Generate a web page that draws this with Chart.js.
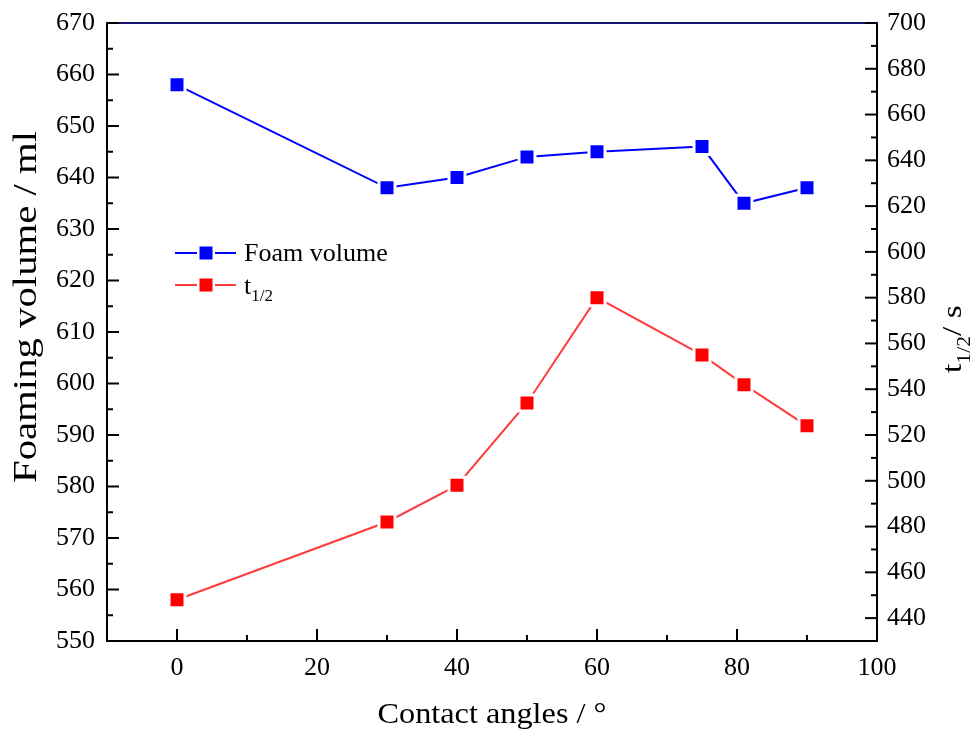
<!DOCTYPE html>
<html>
<head>
<meta charset="utf-8">
<script src="https://cdn.jsdelivr.net/npm/chart.js@4.4.1/dist/chart.umd.min.js"></script>
<style>
  html, body { margin: 0; padding: 0; background: #fff; }
  canvas { display: block; }
</style>
</head>
<body>
<canvas id="chart" width="975" height="734"></canvas>
<script>
// 데이터
const angles = [0, 30, 40, 50, 60, 75, 81, 90];
const foamVolume = [658, 638, 640, 644, 645, 646, 635, 638];
const halfLife = [448, 482, 498, 534, 580, 555, 542, 524];

// 눈금
const xTicks = [0, 20, 40, 60, 80, 100];
const xMinor = [10, 30, 50, 70, 90];
const leftTicks = [550, 560, 570, 580, 590, 600, 610, 620, 630, 640, 650, 660, 670];
const leftMinor = [555, 565, 575, 585, 595, 605, 615, 625, 635, 645, 655, 665];
const rightTicks = [440, 460, 480, 500, 520, 540, 560, 580, 600, 620, 640, 660, 680, 700];
const rightMinor = [450, 470, 490, 510, 530, 550, 570, 590, 610, 630, 650, 670, 690];

const SERIF = '"Liberation Serif", "Times New Roman", serif';
const BLUE = '#0000ff';
const RED = '#ff0000';
const RED_LINE = '#ff3c3c';

// 가로로 늘린 텍스트 (원본 그림 비율 맞춤)
function drawStretched(ctx, text, x, y, size, targetWidth, align) {
    ctx.font = `${size}px ${SERIF}`;
    const w = ctx.measureText(text).width;
    const sx = targetWidth ? targetWidth / w : 1;
    ctx.save();
    ctx.translate(x, y);
    ctx.scale(sx, 1);
    ctx.textAlign = align || 'left';
    ctx.fillText(text, 0, 0);
    ctx.restore();
    return w * sx;
}

// t + 아래첨자
function drawSub(ctx, base, sub, x, y, size, subSize, drop) {
    ctx.font = `${size}px ${SERIF}`;
    ctx.textAlign = 'left';
    ctx.fillText(base, x, y);
    const w1 = ctx.measureText(base).width;
    ctx.font = `${subSize}px ${SERIF}`;
    ctx.fillText(sub, x + w1, y + drop);
    return w1 + ctx.measureText(sub).width;
}

// 안쪽 눈금, 위 테두리, 범례, 축 제목
const framePlugin = {
    id: 'frame',
    afterDraw(chart) {
        const { ctx, chartArea: a, scales } = chart;
        ctx.save();
        ctx.lineWidth = 2;

        ctx.strokeStyle = '#14146e';
        ctx.beginPath();
        ctx.moveTo(a.left - 1, a.top);
        ctx.lineTo(a.right + 1, a.top);
        ctx.stroke();

        ctx.strokeStyle = '#000';
        const line = (x1, y1, x2, y2) => {
            ctx.beginPath();
            ctx.moveTo(x1, y1);
            ctx.lineTo(x2, y2);
            ctx.stroke();
        };
        xTicks.forEach(v => { const p = scales.x.getPixelForValue(v); line(p, a.bottom, p, a.bottom - 12); });
        xMinor.forEach(v => { const p = scales.x.getPixelForValue(v); line(p, a.bottom, p, a.bottom - 6); });
        leftTicks.forEach(v => { const p = scales.y.getPixelForValue(v); line(a.left, p, a.left + 12, p); });
        leftMinor.forEach(v => { const p = scales.y.getPixelForValue(v); line(a.left, p, a.left + 6, p); });
        rightTicks.forEach(v => { const p = scales.y1.getPixelForValue(v); line(a.right, p, a.right - 12, p); });
        rightMinor.forEach(v => { const p = scales.y1.getPixelForValue(v); line(a.right, p, a.right - 6, p); });

        // 범례
        ctx.fillStyle = '#000';
        ctx.textBaseline = 'alphabetic';
        const rows = [253, 285];
        chart.data.datasets.forEach((ds, i) => {
            const y = rows[i];
            ctx.strokeStyle = ds.borderColor;
            ctx.lineWidth = 2;
            line(175, y, 236, y);
            ctx.fillStyle = '#fff';
            ctx.fillRect(197, y - 9, 18, 18);
            ctx.fillStyle = ds.pointBackgroundColor;
            ctx.fillRect(199.5, y - 6.5, 13, 13);
            ctx.fillStyle = '#000';
            if (ds.label === 't1/2') {
                drawSub(ctx, 't', '1/2', 244, y + 9, 26, 17, 7);
            } else {
                ctx.font = `26px ${SERIF}`;
                ctx.textAlign = 'left';
                ctx.fillText(ds.label, 244, y + 8);
            }
        });

        // x축 제목
        drawStretched(ctx, 'Contact angles / °', 492, 723, 29, 229, 'center');

        // 왼쪽 축 제목
        ctx.save();
        ctx.translate(36, 307);
        ctx.rotate(-Math.PI / 2);
        drawStretched(ctx, 'Foaming volume / ml', 0, 0, 33, 352, 'center');
        ctx.restore();

        // 오른쪽 축 제목 t1/2 / s
        ctx.save();
        ctx.translate(961, 373);
        ctx.rotate(-Math.PI / 2);
        ctx.scale(1.2, 1);
        const w = drawSub(ctx, 't', '1/2', 0, 0, 28, 18, 9);
        ctx.font = `28px ${SERIF}`;
        ctx.fillText('/ s', w, 0);
        ctx.restore();

        ctx.restore();
    }
};

const tickFont = { family: SERIF, size: 26 };
// 세로축 라벨 높이가 위쪽 여백을 밀지 않도록 lineHeight 축소
const yTickFont = { family: SERIF, size: 26, lineHeight: 0.8 };

const chart = new Chart(document.getElementById('chart').getContext('2d'), {
    type: 'line',
    data: {
        datasets: [
            {
                label: 'Foam volume',
                data: angles.map((a, i) => ({ x: a, y: foamVolume[i] })),
                yAxisID: 'y',
                borderColor: BLUE,
                borderWidth: 2,
                pointStyle: 'rect',
                pointRadius: 11.3,
                pointBackgroundColor: BLUE,
                pointBorderColor: '#fff',
                pointBorderWidth: 3,
                tension: 0
            },
            {
                label: 't1/2',
                data: angles.map((a, i) => ({ x: a, y: halfLife[i] })),
                yAxisID: 'y1',
                borderColor: RED_LINE,
                borderWidth: 2,
                pointStyle: 'rect',
                pointRadius: 11.3,
                pointBackgroundColor: RED,
                pointBorderColor: '#fff',
                pointBorderWidth: 3,
                tension: 0
            }
        ]
    },
    options: {
        responsive: false,
        animation: false,
        devicePixelRatio: 1,
        layout: { padding: { top: 23, left: 0, right: 0, bottom: 0 } },
        plugins: {
            legend: { display: false },
            tooltip: { enabled: false }
        },
        scales: {
            x: {
                type: 'linear',
                position: 'bottom',
                min: -10,
                max: 100,
                afterBuildTicks: s => { s.ticks = xTicks.map(v => ({ value: v })); },
                afterFit: s => { s.height = 93; },
                grid: { display: false, drawTicks: false },
                border: { display: true, color: '#000', width: 2 },
                ticks: { font: tickFont, color: '#000', padding: 12, maxRotation: 0 }
            },
            y: {
                type: 'linear',
                position: 'left',
                min: 550,
                max: 670,
                afterBuildTicks: s => { s.ticks = leftTicks.map(v => ({ value: v })); },
                afterFit: s => { s.width = 107; },
                grid: { display: false, drawTicks: false },
                border: { display: true, color: '#000', width: 2 },
                ticks: { font: yTickFont, color: '#000', padding: 12 }
            },
            y1: {
                type: 'linear',
                position: 'right',
                min: 430,
                max: 700,
                afterBuildTicks: s => { s.ticks = rightTicks.map(v => ({ value: v })); },
                afterFit: s => { s.width = 98; },
                grid: { display: false, drawTicks: false },
                border: { display: true, color: '#000', width: 2 },
                ticks: { font: yTickFont, color: '#000', padding: 10 }
            }
        }
    },
    plugins: [framePlugin]
});
</script>
</body>
</html>
